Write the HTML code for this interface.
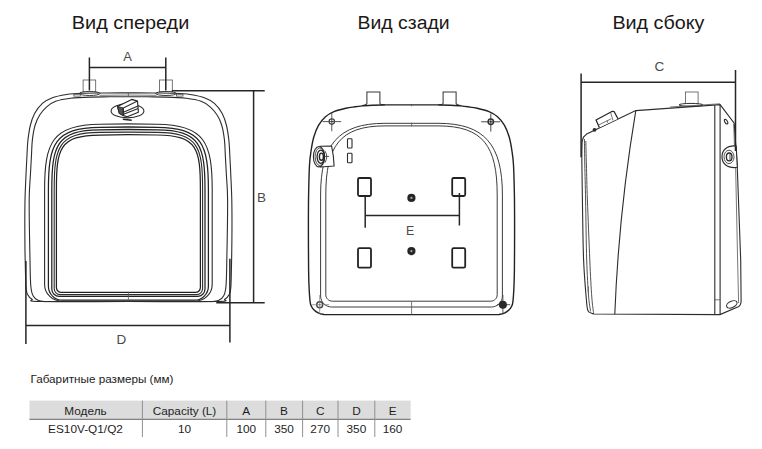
<!DOCTYPE html>
<html lang="ru">
<head>
<meta charset="utf-8">
<title>Габаритные размеры</title>
<style>
html,body{margin:0;padding:0;background:#fff;}
body{width:762px;height:449px;overflow:hidden;position:relative;font-family:"Liberation Sans",sans-serif;}
svg{position:absolute;left:0;top:0;display:block;}
text{font-family:"Liberation Sans",sans-serif;}
.t{font-size:18px;fill:#1c1818;}
.l{font-size:13.5px;fill:#4a4a4a;}
.d{stroke:#262626;stroke-width:1.5;fill:none;}
.o{stroke:#2c2c2c;stroke-width:1.1;fill:none;}
.o2{stroke:#222;stroke-width:1.25;fill:none;}
.m{stroke:#555;stroke-width:.8;fill:none;}
.k{stroke:#222;stroke-width:1.4;fill:none;}
.p{stroke:#383838;stroke-width:1.05;fill:none;}
.pn{stroke:#3c3c3c;stroke-width:1;fill:none;}
.m2{stroke:#3c3c3c;stroke-width:.9;fill:none;}
.k2{stroke:#222;stroke-width:1.8;fill:none;}
</style>
</head>
<body>
<svg width="762" height="449" viewBox="0 0 762 449">
<text class="t" x="71.800" y="29" textLength="117.500" lengthAdjust="spacingAndGlyphs">Вид спереди</text>
<text class="t" x="357.600" y="29" textLength="92" lengthAdjust="spacingAndGlyphs">Вид сзади</text>
<text class="t" x="612.400" y="29" textLength="92" lengthAdjust="spacingAndGlyphs">Вид сбоку</text>
<g id="front">
<rect class="m" x="83.100" y="80" width="12.600" height="11.800"/>
<rect class="m" x="159.500" y="80" width="12.800" height="11.800"/>
<ellipse cx="89.600" cy="93.500" rx="10.400" ry="2" fill="#fff" stroke="#3a3a3a" stroke-width="1"/>
<ellipse cx="166" cy="93.500" rx="10.400" ry="2" fill="#fff" stroke="#3a3a3a" stroke-width="1"/>
<rect class="m" x="176.500" y="94.300" width="6.500" height="1.800"/>
<rect class="m" x="73.800" y="94.300" width="6.500" height="1.800"/>
<path class="o" d="M128.4 301.5C98.9 301.5 56.1 301.9 40 301.5C23.9 301.1 34.1 300.5 32 299.3C29.9 298.1 28.6 296.4 27.6 294.5C26.6 292.6 26.4 292.9 26 288C25.6 283.1 25.5 273 25.3 265C25.1 257 24.9 250.8 24.9 240C24.8 229.2 24.8 210.8 25 200C25.2 189.2 25.7 182.5 26 175C26.3 167.5 26.7 160.9 27 155C27.3 149.1 27.4 144.5 28 139.6C28.6 134.7 29.2 129.9 30.3 125.5C31.4 121.1 32.6 117.1 34.6 113.4C36.6 109.7 39.5 105.9 42.4 103.3C45.3 100.7 47.8 99.4 51.8 97.9C55.8 96.4 61.5 95.3 66.6 94.5C71.7 93.7 75.8 93.5 82.2 93.3C88.6 93 97.3 93.1 105 93C112.7 92.9 120.6 92.9 128.4 92.9C136.2 92.9 144.1 92.9 151.8 93C159.5 93.1 168.2 93 174.6 93.3C181 93.5 185.1 93.7 190.2 94.5C195.3 95.3 201 96.4 205 97.9C209 99.4 211.5 100.7 214.4 103.3C217.3 105.9 220.2 109.7 222.2 113.4C224.2 117.1 225.4 121.1 226.5 125.5C227.6 129.9 228.2 134.7 228.8 139.6C229.4 144.5 229.5 149.1 229.8 155C230.1 160.9 230.5 167.5 230.8 175C231.1 182.5 231.6 189.2 231.8 200C232 210.8 232 229.2 231.9 240C231.8 250.8 231.7 257 231.5 265C231.3 273 231.2 283.1 230.8 288C230.4 292.9 230.2 292.6 229.2 294.5C228.2 296.4 226.9 298.1 224.8 299.3C222.7 300.5 232.9 301.1 216.8 301.5C200.7 301.9 157.9 301.5 128.4 301.5Z"/>
<path class="o" d="M46 301.6C44.7 301.4 40.5 301.4 38.4 300.5C36.3 299.6 34.5 298.4 33.2 296C31.9 293.6 31.4 292.8 30.8 286C30.2 279.2 30.2 269.3 29.9 255C29.6 240.7 29.1 213.3 29.2 200C29.3 186.7 30 182.5 30.4 175C30.8 167.5 31.2 160.9 31.5 155C31.8 149.1 31.8 144.5 32.4 139.6C33 134.7 33.8 129.6 35 125.5C36.2 121.4 37.8 118.1 39.7 115C41.7 111.9 44 109.1 46.7 106.8C49.4 104.5 51.7 102.7 55.7 101.3C59.7 99.9 64.8 99 70.5 98.3C76.2 97.6 83.4 97.3 90 97.1C96.6 96.8 103.6 96.9 110 96.8C116.4 96.7 122.3 96.7 128.4 96.7C134.5 96.7 140.4 96.7 146.8 96.8C153.2 96.9 160.2 96.8 166.8 97.1C173.4 97.3 180.6 97.6 186.3 98.3C192 99 197.1 99.9 201.1 101.3C205.1 102.7 207.4 104.5 210.1 106.8C212.8 109.1 215.2 111.9 217.1 115C219.1 118.1 220.6 121.4 221.8 125.5C223 129.6 223.8 134.7 224.4 139.6C225 144.5 225 149.1 225.3 155C225.6 160.9 226 167.5 226.4 175C226.8 182.5 227.5 186.7 227.6 200C227.7 213.3 227.2 240.7 226.9 255C226.6 269.3 226.6 279.2 226 286C225.4 292.8 224.9 293.6 223.6 296C222.3 298.4 220.5 299.6 218.4 300.5C216.3 301.4 212.1 301.4 210.8 301.6"/>
<path class="m" d="M99.500 95.300 Q128.400 94.800 156.500 95.300"/>
<path class="m" d="M128.400 92.900 V96.700"/>
<path class="o" d="M128.4 301.2L61.6 301.2C52.2 301.2 44.6 293.6 44.6 284.2L44.6 190C44.6 142.8 52 124.4 100 124.2Q128.4 123.6 156.8 124.2C204.8 124.4 212.2 142.8 212.2 190L212.2 284.2C212.2 293.6 204.6 301.2 195.2 301.2Z"/>
<path class="o2" d="M128.4 300.2L62.4 300.2C54.7 300.2 48.4 293.9 48.4 286.2L48.4 190C48.4 144.6 54.3 127.5 100 127.3Q128.4 126.7 156.8 127.3C202.5 127.5 208.4 144.6 208.4 190L208.4 286.2C208.4 293.9 202.1 300.2 194.4 300.2Z"/>
<path class="o2" d="M128.4 296.4L59.3 296.4C55.2 296.4 51.8 293 51.8 288.9L51.8 190C51.8 146 56.4 130 100 129.8Q128.4 129.2 156.8 129.8C200.4 130 205 146 205 190L205 288.9C205 293 201.6 296.4 197.5 296.4Z"/>
<path class="o" d="M128.4 294.6L60.2 294.6C56.9 294.6 54.2 291.9 54.2 288.6L54.2 190C54.2 147.5 57.9 132.6 100 132.4Q128.4 131.8 156.8 132.4C198.9 132.6 202.6 147.5 202.6 190L202.6 288.6C202.6 291.9 199.9 294.6 196.6 294.6Z"/>
<path class="o2" d="M128.4 292.4L61.2 292.4C58.6 292.4 56.4 290.2 56.4 287.6L56.4 190C56.4 149 59.2 135.2 100 135Q128.4 134.4 156.8 135C197.6 135.2 200.4 149 200.4 190L200.4 287.6C200.4 290.2 198.2 292.4 195.6 292.4Z"/>
<path class="m" d="M128.400 292.200 V301"/>
<ellipse class="o" cx="127.500" cy="110.900" rx="16.400" ry="7"/>
<path d="M117.500 106.500 L131.700 99.400 L137.500 101.100 L138.400 112.300 L127.300 116.700 L122.800 115.400 L119.300 113.300 Z" fill="#fff" stroke="#222" stroke-width="1.100" stroke-linejoin="round"/>
<path d="M117.500 106.500 L123.300 107.900 L122.800 115.400 L119.300 113.300 Z" fill="#555" stroke="#222" stroke-width=".8"/>
<path class="o" d="M123.300 107.900 L137.500 101.100 M123.300 107.900 L123.600 115.700 M123.400 112.300 L138 106 M123.500 114.300 L138.200 108.600" />
<path d="M122.800 119.300 L131.700 120.300" stroke="#222" stroke-width="1.600"/>
<path class="d" d="M89.400 57.600 V90.400 M165.800 57.600 V90.400 M89.400 67.400 H165.800"/>
<path class="d" d="M171.800 90.700 H264.700 M216.300 302.800 H264.700 M253.600 90.700 V302.800"/>
<path class="d" d="M25.900 261 V344 M229.900 258.800 V342.500 M25.900 325.400 H229.900"/>
<text class="l" x="123.200" y="60.900" textLength="8.600" lengthAdjust="spacingAndGlyphs">A</text>
<text class="l" x="257" y="201.700">B</text>
<text class="l" x="116.600" y="343.700">D</text>
</g>
<g id="back">
<path class="p" d="M362 105.400 Q366.600 105 366.900 103.300 V91.900 H379.900 V103.300 Q380.200 104.700 385 104.900"/>
<path class="p" d="M438 104.900 Q442.800 104.700 443.100 103.300 V91.900 H456.100 V103.300 Q456.400 105 461 105.400"/>
<path class="k" d="M411.5 314.6C386 314.6 349.8 314.7 335 314.6C320.2 314.6 325.9 314.7 323 314.3C320.1 313.9 319 313.2 317.5 312.5C316 311.8 315.1 311.1 314.1 310.1C313.1 309.1 312.1 307.8 311.5 306.5C310.9 305.2 310.6 305.1 310.2 302.3C309.8 299.6 309.5 295.4 309.2 290C308.9 284.6 308.7 280 308.6 270C308.5 260 308.4 242.5 308.4 230C308.4 217.5 308.4 205.8 308.6 195C308.8 184.2 309.1 172.5 309.5 165C309.9 157.5 310.5 154.7 311.2 150C311.9 145.3 312.6 141.1 313.8 137C315 132.9 316.6 128.8 318.5 125.4C320.4 122 322.9 119.1 325.5 116.8C328.1 114.5 330.6 113.1 334 111.7C337.4 110.3 342.3 109.1 345.8 108.3C349.3 107.5 352.3 107.2 355 106.8C357.7 106.4 359.2 106.2 362.2 105.9C365.2 105.6 369.2 105.4 373 105.2C376.8 105 378.6 105 385 104.9C391.4 104.9 402.7 104.9 411.5 104.9C420.3 104.9 431.6 104.9 438 104.9C444.4 105 446.2 105 450 105.2C453.8 105.4 457.8 105.6 460.8 105.9C463.8 106.2 465.3 106.4 468 106.8C470.7 107.2 473.7 107.5 477.2 108.3C480.7 109.1 485.6 110.3 489 111.7C492.4 113.1 494.9 114.5 497.5 116.8C500.1 119.1 502.6 122 504.5 125.4C506.4 128.8 508 132.9 509.2 137C510.4 141.1 511.1 145.3 511.8 150C512.5 154.7 513.1 157.5 513.5 165C513.9 172.5 514.2 184.2 514.4 195C514.6 205.8 514.6 217.5 514.6 230C514.6 242.5 514.5 260 514.4 270C514.3 280 514.1 284.6 513.8 290C513.5 295.4 513.2 299.6 512.8 302.3C512.4 305.1 512.1 305.2 511.5 306.5C510.9 307.8 509.9 309.1 508.9 310.1C507.9 311.1 507 311.8 505.5 312.5C504 313.2 502.9 313.9 500 314.3C497.1 314.7 502.8 314.6 488 314.6C473.2 314.7 437 314.6 411.5 314.6Z"/>
<path class="pn" d="M411.5 307L331.6 307C325.6 307 320.6 302.1 320.6 296L320.6 195C320.6 145 338 123.3 385 123.3L438 123.3C485 123.3 502.4 145 502.4 195L502.4 296C502.4 302.1 497.4 307 491.4 307Z"/>
<path class="pn" d="M411.5 301.2L332.3 301.2C328.7 301.2 325.8 298.3 325.8 294.7L325.8 195C325.8 146 340 125.9 385 125.9L438 125.9C483 125.9 497.2 146 497.2 195L497.2 294.7C497.2 298.3 494.3 301.2 490.7 301.2Z"/>
<path class="m" d="M411.600 104.200 V106.300 M411.600 122.800 V126.400 M411.600 301.200 V314.600"/>
<g stroke="#444" stroke-width=".9" fill="none"><circle cx="331.800" cy="121.600" r="2.700" stroke-width="1.200"/><circle cx="331.800" cy="121.600" r=".8" fill="#555" stroke="none"/><path d="M322.500 121.600 H341.200 M331.800 113.400 V131.200"/></g>
<g stroke="#333" stroke-width=".9" fill="none"><circle cx="490.800" cy="121.800" r="2.700" stroke-width="1.500"/><circle cx="490.800" cy="121.800" r=".8" fill="#444" stroke="none"/><path d="M481.200 121.800 H500.200 M490.800 113.700 V131.600"/></g>
<g stroke="#444" stroke-width=".9" fill="none"><circle cx="319.700" cy="304.700" r="3" stroke-width="1.400"/><circle cx="319.700" cy="304.700" r=".8" fill="#555" stroke="none"/><path d="M311.400 304.700 H329.200 M319.700 295 V314" stroke="#777" stroke-width=".7"/></g>
<path d="M502.900 295 V313 M497 304.700 H510.200" stroke="#444" stroke-width=".9" fill="none"/>
<circle cx="502.900" cy="304.700" r="4" fill="#2a2a2a"/>
<rect class="o" x="347.500" y="138.700" width="4.500" height="9.300" rx=".8"/>
<rect class="o" x="347.500" y="153.200" width="4.500" height="9.600" rx=".8"/>
<path d="M320 146.300 L331.600 146 Q333.800 156 334.100 166 L320.500 167 Z" fill="#fff" stroke="#2c2c2c" stroke-width="1.150" stroke-linejoin="round"/>
<ellipse cx="319" cy="156.700" rx="5.600" ry="10.200" fill="#fff" stroke="#2c2c2c" stroke-width="1.100"/>
<ellipse class="m2" cx="319.800" cy="156.700" rx="4.700" ry="8.800"/>
<ellipse cx="320.800" cy="156.700" rx="3.700" ry="6.600" fill="none" stroke="#262626" stroke-width="1.300"/>
<ellipse cx="321.400" cy="156.700" rx="2" ry="3.600" fill="none" stroke="#262626" stroke-width="1.400"/>
<path class="m2" d="M324.800 150.600 Q328.700 156.700 324.800 162.800 M325.200 156.400 H329"/>
<rect class="k2" x="358" y="178" width="13" height="18" rx="1.500"/>
<rect class="k2" x="452.2" y="178" width="13" height="18" rx="1.500"/>
<rect class="k2" x="358" y="248.2" width="13" height="19.5" rx="1.500"/>
<rect class="k2" x="452.2" y="248.2" width="13" height="19.5" rx="1.500"/>
<circle cx="411.400" cy="197.9" r="4.100" fill="#262626"/><circle cx="411.400" cy="197.9" r="1.100" fill="#aaa"/>
<circle cx="411.400" cy="251.1" r="4.100" fill="#262626"/><circle cx="411.400" cy="251.1" r="1.100" fill="#aaa"/>
<path class="d" d="M365.200 196 V227.700 M459.400 193 V225.500 M365.200 215.400 H459.400"/>
<text class="l" x="406" y="234.700" textLength="8.200" lengthAdjust="spacingAndGlyphs">E</text>
</g>
<g id="side">
<rect class="m" x="685.400" y="92" width="12.700" height="12"/>
<ellipse cx="691" cy="104.900" rx="12" ry="1.500" fill="#fff" stroke="#333" stroke-width="1"/>
<path class="o" d="M593.7 314C593 313.7 590.6 313.1 589.6 312.4C588.6 311.7 588.1 311.7 587.6 309.6C587.1 307.5 587.1 308.3 586.4 300C585.7 291.7 584.3 276.7 583.6 260C582.9 243.3 582.7 215.8 582.4 200C582.1 184.2 582 174.2 581.9 165C581.8 155.8 581.9 149.1 582 145C582.1 140.9 582.1 141.8 582.4 140.5C582.7 139.2 582.9 138.2 583.6 137.1C584.3 136 586.2 134.5 586.7 134 L635.800 110.600 L720.100 104.600 L734.200 123.100 L737.200 165.200 L740.700 260 L741.100 300.500 Q741.200 305.300 738.300 306.800 L719.900 314.600 L593.700 314"/>
<path class="m" d="M733.700 124 L734.500 147 M735.600 166 L737.600 260 L738.600 303"/>
<path class="m2" d="M584.4 139C584.5 143.3 584.6 154.8 584.8 165C585 175.2 585.3 184.2 585.6 200C585.9 215.8 586.2 244.2 586.7 260C587.2 275.8 587.9 286.4 588.5 295C589.1 303.6 590.2 308.7 590.6 311.4"/>
<path class="m2" d="M585.8 141C585.9 145 586.1 155.2 586.4 165C586.7 174.8 586.8 184.2 587.4 200C588 215.8 589.1 243.8 589.8 260C590.5 276.2 591.1 288 591.8 297C592.4 306 593.4 311 593.7 313.8"/>
<path class="m" d="M588.300 286.500 V292.700"/>
<path class="o" d="M635.800 110.600 Q618.800 212 614.800 314.300"/>
<path class="o" d="M714.800 105.200 V314.500 M720.100 104.800 V314.500"/>
<path class="m" d="M670 107 L720.100 103.800"/>
<path class="m" d="M714.800 299.800 H720.100"/>
<path d="M599.400 127.600 L596 120 L612.400 111.300 L614.200 111.700 L618 118.700" fill="#fff" stroke="#262626" stroke-width="1.250" stroke-linejoin="round"/>
<path class="m" d="M599 124.800 L611.200 118.800 M610.800 113 L613 120.500 M607 120.300 L607.600 122.800"/>
<circle cx="594.500" cy="129.800" r="1.900" fill="#2a2a2a"/>
<ellipse class="o" cx="726.100" cy="121.700" rx="1.300" ry="2.500" transform="rotate(-32 726.100 121.700)"/>
<ellipse class="o" cx="731.800" cy="304.400" rx="5.600" ry="3.100" transform="rotate(-25 731.800 304.400)"/>
<path d="M736.200 146 L734 145.800 C727 145.800 722 150 722 156.700 C722 163.500 727 167.600 734.500 167.600 L737.300 167.200 Z" fill="#fff" stroke="#2c2c2c" stroke-width="1.150" stroke-linejoin="round"/>
<ellipse class="m2" cx="729" cy="156.900" rx="5" ry="6.700"/>
<ellipse cx="729.200" cy="156.900" rx="2.800" ry="3.900" fill="none" stroke="#262626" stroke-width="1.300"/>
<path class="m2" d="M730 154 V160"/>
<path class="d" d="M581.100 73.400 V157.200 M735.500 70 V151 M581.100 82.300 H735.500"/>
<text class="l" x="654.400" y="70.900">C</text>
</g>
<text x="30.500" y="383.400" font-size="11.300" fill="#222" textLength="143" lengthAdjust="spacingAndGlyphs">Габаритные размеры (мм)</text>
<g id="table">
<rect x="29.500" y="400.600" width="381.100" height="18.700" fill="#dcdcdc"/>
<path d="M29.500 419.300 H410.600" stroke="#666" stroke-width="1" fill="none"/>
<path d="M142.400 400.600 V437 M226.800 400.600 V437 M265.800 400.600 V437 M302.600 400.600 V437 M338 400.600 V437 M374.800 400.600 V437" stroke="#8f8f8f" stroke-width="1" fill="none"/>
<g font-size="11.800" fill="#1e1e1e" text-anchor="middle">
<text x="85.500" y="414.900">Модель</text>
<text x="184.500" y="414.900">Capacity (L)</text>
<text x="246.300" y="414.900">A</text>
<text x="284" y="414.900">B</text>
<text x="320.200" y="414.900">C</text>
<text x="356.400" y="414.900">D</text>
<text x="392.600" y="414.900">E</text>
<text x="85.500" y="432.900">ES10V-Q1/Q2</text>
<text x="184.500" y="432.900">10</text>
<text x="246.300" y="432.900">100</text>
<text x="284" y="432.900">350</text>
<text x="320.200" y="432.900">270</text>
<text x="356.400" y="432.900">350</text>
<text x="392.600" y="432.900">160</text>
</g>
</g>
</svg>
</body>
</html>
